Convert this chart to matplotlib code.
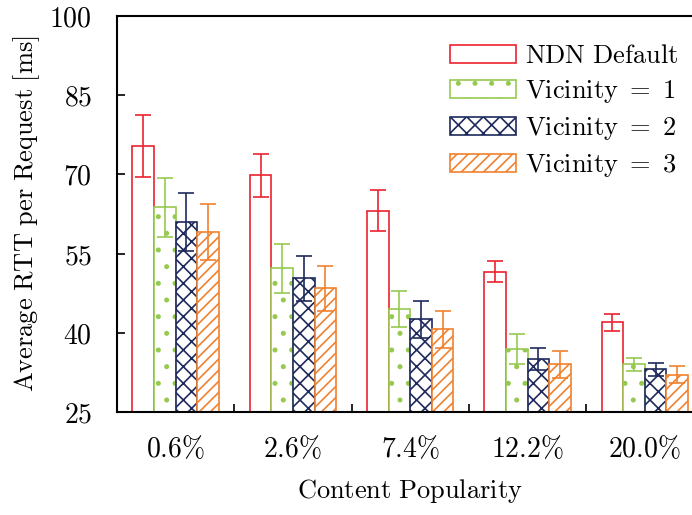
import numpy as np
import matplotlib
matplotlib.use('Agg')
import matplotlib.pyplot as plt

# data
categories = ['0.6\\%', '2.6\\%', '7.4\\%', '12.2\\%', '20.0\\%']
series_names = ['NDN Default', 'Vicinity = 1', 'Vicinity = 2', 'Vicinity = 3']
ndn_default = [75.4, 69.8, 63.1, 51.6, 42.0]
ndn_default_err = [5.8, 4.1, 3.9, 2.0, 1.6]
vicinity_1 = [63.8, 52.2, 44.5, 36.9, 34.0]
vicinity_1_err = [5.6, 4.6, 3.4, 2.9, 1.2]
vicinity_2 = [60.9, 50.3, 42.6, 35.0, 33.1]
vicinity_2_err = [5.5, 4.3, 3.5, 2.1, 1.2]
vicinity_3 = [59.0, 48.4, 40.7, 34.0, 32.1]
vicinity_3_err = [5.3, 4.2, 3.5, 2.6, 1.6]

values = [ndn_default, vicinity_1, vicinity_2, vicinity_3]
errors = [ndn_default_err, vicinity_1_err, vicinity_2_err, vicinity_3_err]
colors = ['#ec2330', '#96c94f', '#1f2a5c', '#f0812f']
hatches = ['', '.', 'xx', '///']

plt.rcParams['mathtext.fontset'] = 'cm'
plt.rcParams['font.family'] = 'serif'
plt.rcParams['font.serif'] = ['DejaVu Serif']
plt.rcParams['hatch.linewidth'] = 1.2
plt.rcParams['axes.linewidth'] = 1.5

fig = plt.figure(figsize=(6.92, 5.15), dpi=100)
ax = fig.add_axes([117 / 692, 1 - 412 / 515, 586.5 / 692, 396 / 515])

x = np.arange(len(categories))
w = 0.184
for i, (vals, errs) in enumerate(zip(values, errors)):
    pos = x + (i - 1.5) * w
    label = r'$\mathrm{' + series_names[i].replace(' ', '\\ ') + '}$'
    ax.bar(pos, vals, w, facecolor='white', edgecolor=colors[i],
           hatch=hatches[i], linewidth=1.2, label=label, zorder=2)
    ax.errorbar(pos, vals, yerr=errs, fmt='none', ecolor=colors[i],
                elinewidth=1.2, capsize=5.5, capthick=1.2, zorder=3)

ax.set_xlim(-0.5, 4.5)
ax.set_ylim(25, 100)
ax.set_yticks([25, 40, 55, 70, 85, 100])
ax.set_yticklabels([r'$%d$' % v for v in [25, 40, 55, 70, 85, 100]])
ax.set_xticks(x)
ax.set_xticklabels([r'$\mathrm{%s}$' % c for c in categories])
ax.set_xticks([0.5, 1.5, 2.5, 3.5], minor=True)
ax.tick_params(axis='x', which='major', length=0, pad=17, labelsize=20)
ax.tick_params(axis='x', which='minor', direction='in', length=6, width=1.2)
ax.tick_params(axis='y', direction='in', length=6, width=1.2, pad=18, labelsize=20)
ax.spines['right'].set_visible(False)

ax.set_xlabel(r'$\mathrm{Content\ Popularity}$', fontsize=19, labelpad=10)
ax.set_ylabel(r'$\mathrm{Average\ RTT\ per\ Request\ [ms]}$', fontsize=19, labelpad=5)

ax.legend(loc='upper left', bbox_to_anchor=(450 / 692, 1 - 43 / 515),
          bbox_transform=fig.transFigure, frameon=False, fontsize=19,
          handlelength=2.5, handleheight=0.7, handletextpad=0.35,
          labelspacing=0.38, borderpad=0, borderaxespad=0)

fig.savefig('out.png', dpi=100)
